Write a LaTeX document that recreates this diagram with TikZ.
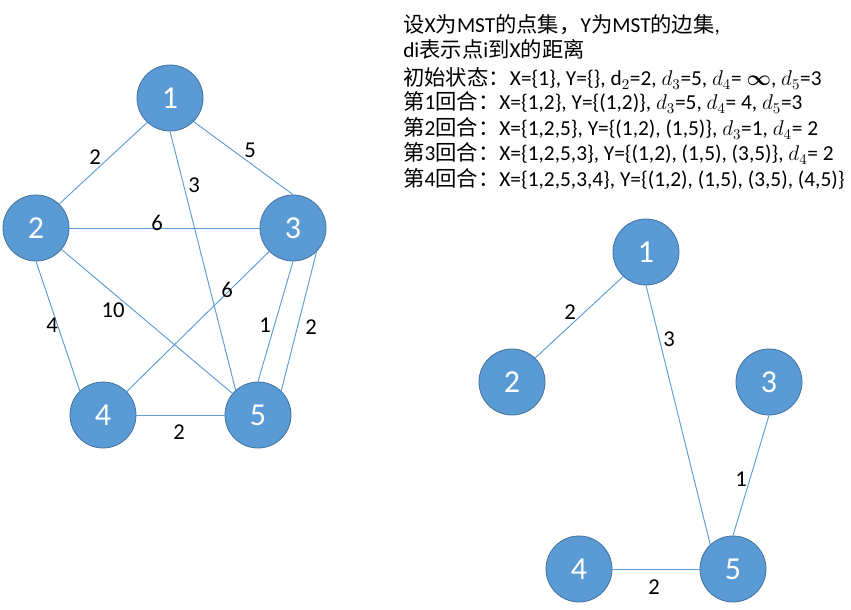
\RequirePackage{fix-cm}
\documentclass[tikz,border=0pt]{standalone}
\usepackage{amsmath}
\usepackage{fontspec}
\setmainfont{Carlito}
\newfontfamily\cjk{Noto Sans CJK SC}
\usepackage{xcolor}
\definecolor{nodeblue}{HTML}{5B9BD5}
\definecolor{nodeline}{HTML}{41719C}
\newcommand{\zh}[1]{{\cjk #1}}

\begin{document}
\begin{tikzpicture}[x=0.75pt,y=-0.75pt,
  vtx/.style={circle,fill=nodeblue,draw=nodeline,line width=0.6pt,minimum size=49.5pt,
    inner sep=0pt,text=white,font=\fontsize{24}{24}\selectfont},
  edge/.style={draw=nodeblue,line width=0.7pt},
  wt/.style={inner sep=0pt,font=\fontsize{17}{17}\selectfont},
  txt/.style={anchor=base west,inner sep=0pt,font=\fontsize{16}{18}\selectfont}]
  \useasboundingbox (0,0) rectangle (851,610);
  % full graph
  \node[vtx] (a1) at (170,98) {1};
  \node[vtx] (a2) at (36,228) {2};
  \node[vtx] (a3) at (293,228) {3};
  \node[vtx] (a4) at (103,415) {4};
  \node[vtx] (a5) at (258,415) {5};
  \draw[edge] (a1.227) -- (a2.46);
  \draw[edge] (a1.315) -- (a3.90);
  \draw[edge] (a1.270) -- (a5.132);
  \draw[edge] (a2) -- (a3);
  \draw[edge] (a2) -- (a5);
  \draw[edge] (a2.270) -- (a4.134);
  \draw[edge] (a3) -- (a4);
  \draw[edge] (a3.270) -- (a5.90);
  \draw[edge] (a3.315) -- (a5.46);
  \draw[edge] (a4) -- (a5);
  % weights
  \node[wt] (w12) at (95,157) {2};
  \node[wt] (w13) at (250,150) {5};
  \node[wt] (w15) at (194,185) {3};
  \node[wt] (w23) at (157,223) {6};
  \node[wt] (w34) at (227,290) {6};
  \node[wt] (w25) at (113,310) {10};
  \node[wt] (w24) at (52,325) {4};
  \node[wt] (w35a) at (265,325) {1};
  \node[wt] (w35b) at (311,327) {2};
  \node[wt] (w45) at (179,432) {2};
  % minimum spanning tree
  \node[vtx] (b1) at (646,252) {1};
  \node[vtx] (b2) at (512,382) {2};
  \node[vtx] (b3) at (769,382) {3};
  \node[vtx] (b4) at (579,569) {4};
  \node[vtx] (b5) at (733,569) {5};
  \draw[edge] (b1.227) -- (b2.46);
  \draw[edge] (b1.270) -- (b5.133);
  \draw[edge] (b3.270) -- (b5.90);
  \draw[edge] (b4) -- (b5);
  \node[wt] (v12) at (570,312) {2};
  \node[wt] (v15) at (669,339) {3};
  \node[wt] (v35) at (741,479) {1};
  \node[wt] (v45) at (654,587) {2};
  % steps of Prim
  \node[txt] (t1) at (403,33) {\zh{设}X\zh{为}MST\zh{的点集，}Y\zh{为}MST\zh{的边集},};
  \node[txt] (t2) at (403,58) {di\zh{表示点}i\zh{到}X\zh{的距离}};
  \node[txt] (t3) at (403,86) {\zh{初始状态：}X=\{1\}, Y=\{\}, $\mathrm{d}_2$=2, $d_3$=5, $d_4$= $\boldsymbol{\infty}$, $d_5$=3};
  \node[txt] (t4) at (403,110) {\zh{第}1\zh{回合：}X=\{1,2\}, Y=\{(1,2)\}, $d_3$=5, $d_4$= 4, $d_5$=3};
  \node[txt] (t5) at (403,136) {\zh{第}2\zh{回合：}X=\{1,2,5\}, Y=\{(1,2), (1,5)\}, $d_3$=1, $d_4$= 2};
  \node[txt] (t6) at (403,161) {\zh{第}3\zh{回合：}X=\{1,2,5,3\}, Y=\{(1,2), (1,5), (3,5)\}, $d_4$= 2};
  \node[txt] (t7) at (403,186) {\zh{第}4\zh{回合：}X=\{1,2,5,3,4\}, Y=\{(1,2), (1,5), (3,5), (4,5)\}};
\end{tikzpicture}
\end{document}
